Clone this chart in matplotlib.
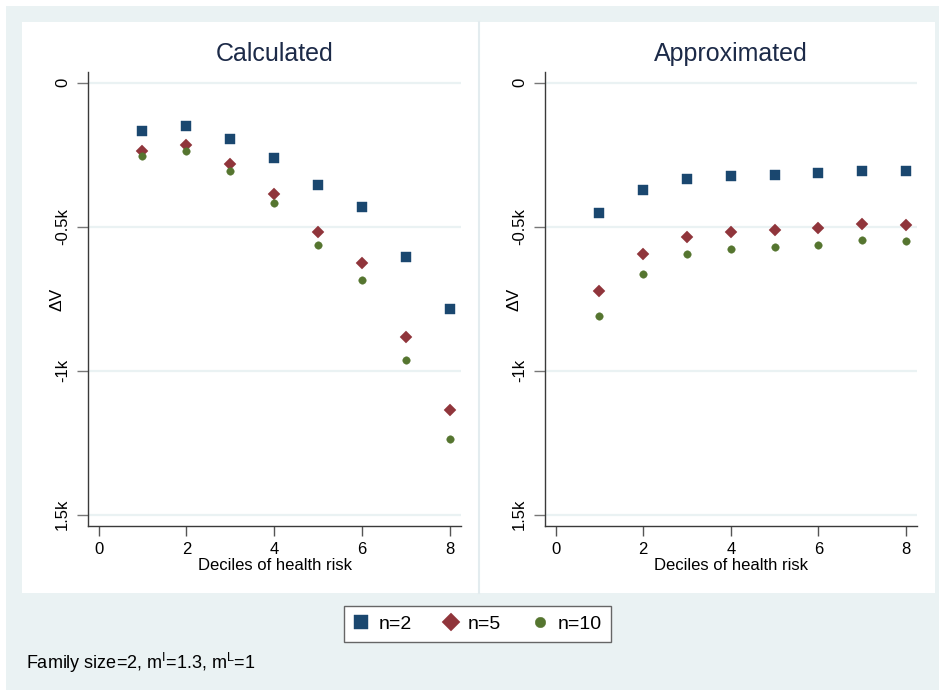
import matplotlib
matplotlib.use("Agg")
import matplotlib.pyplot as plt
from matplotlib.patches import Rectangle
from matplotlib.lines import Line2D

plt.rcParams['font.family'] = ['Liberation Sans', 'DejaVu Sans']
plt.rcParams['mathtext.fontset'] = 'custom'
plt.rcParams['mathtext.rm'] = 'Liberation Sans'
plt.rcParams['mathtext.it'] = 'Liberation Sans:italic'

# ---- data ----
deciles = [1, 2, 3, 4, 5, 6, 7, 8]
calc_n2 = [-168, -149, -194, -262, -356, -431, -606, -786]
calc_n5 = [-236, -216, -281, -385, -519, -627, -884, -1136]
calc_n10 = [-254, -236, -307, -417, -564, -684, -962, -1236]
approx_n2 = [-453, -373, -333, -324, -319, -315, -308, -308]
approx_n5 = [-724, -595, -537, -519, -510, -503, -491, -493]
approx_n10 = [-810, -664, -596, -578, -569, -563, -547, -549]
panel_titles = ["Calculated", "Approximated"]
series_labels = ["n=2", "n=5", "n=10"]
yticks = [0, -500, -1000, -1500]
ytick_labels = ["0", "-0.5k", "-1k", "1.5k"]
xticks = [0, 2, 4, 6, 8]
xlabel = "Deciles of health risk"
ylabel = "ΔV"
note = r"Family size=2, m$^{\mathrm{I}}$=1.3, m$^{\mathrm{L}}$=1"

colors = ["#1a476f", "#90353b", "#55752f"]
markers = ["s", "D", "o"]
msizes = [6.8, 6.6, 5.4]

W, H = 939, 690
fig = plt.figure(figsize=(W / 100, H / 100), dpi=100, facecolor="white")

def fx(px):
    return px / W

def fy(py):
    return 1 - py / H

bg = "#EAF2F3"
fig.patches.append(Rectangle((fx(6), fy(690)), fx(933), 684 / H, transform=fig.transFigure,
                             facecolor=bg, edgecolor="none", zorder=-10))
fig.patches.append(Rectangle((fx(22), fy(593)), fx(913), 571 / H, transform=fig.transFigure,
                             facecolor="white", edgecolor="none", zorder=-9))
fig.lines.append(Line2D([fx(479), fx(479)], [fy(22), fy(593)], transform=fig.transFigure,
                        color="#E3ECEF", lw=1.5, zorder=-8))

axes_px = [(88, 461), (545, 917)]
top, bottom = 72, 526
data = [[calc_n2, calc_n5, calc_n10], [approx_n2, approx_n5, approx_n10]]

handles = []
for i, (x0, x1) in enumerate(axes_px):
    ax = fig.add_axes([fx(x0), fy(bottom), (x1 - x0) / W, (bottom - top) / H], zorder=1)
    ax.set_facecolor("white")
    for s in ["top", "right"]:
        ax.spines[s].set_visible(False)
    for s in ["left", "bottom"]:
        ax.spines[s].set_color("#3a3a3a")
        ax.spines[s].set_linewidth(1.0)
    ax.set_xlim(-0.24, 8.25)
    ax.set_ylim(-1539, 37)
    for y in yticks:
        ax.axhline(y, color=bg, lw=1.6, zorder=0.5)
    for k, ser in enumerate(data[i]):
        h, = ax.plot(deciles, ser, linestyle="none", marker=markers[k], markersize=msizes[k],
                     color=colors[k], markeredgecolor=colors[k], markeredgewidth=0.3, zorder=3,
                     label=series_labels[k])
        if i == 0:
            handles.append(h)
    ax.set_xticks(xticks)
    ax.set_xticklabels([str(t) for t in xticks], fontsize=12)
    ax.set_yticks(yticks)
    ax.set_yticklabels(ytick_labels, fontsize=12, rotation=90, va="center")
    ax.tick_params(axis="x", length=7, width=1, color="#555555", pad=4.5)
    ax.tick_params(axis="y", length=8, width=1, color="#777777", pad=5)
    cx = (x0 + x1) / 2
    fig.text(fx(cx), fy(54), panel_titles[i], fontsize=18, color="#1c2a48",
             ha="center", va="center")
    fig.text(fx(cx), fy(566), xlabel, fontsize=12, ha="center", va="center", zorder=2)
    fig.text(fx(x0 - 31), fy(299), ylabel, fontsize=12.5, ha="center", va="center",
             rotation=90, zorder=2)

leg = fig.legend(handles=handles, labels=series_labels, loc="center", ncol=3,
                 bbox_to_anchor=(fx(477.5), fy(624)), fontsize=14, frameon=True,
                 fancybox=False, numpoints=1, markerscale=1.4, handlelength=0.8,
                 handletextpad=0.5, columnspacing=1.6, borderpad=0.45,
                 facecolor="white", framealpha=1.0)
leg.get_frame().set_edgecolor("#666666")
leg.get_frame().set_linewidth(1.0)

fig.text(fx(26), fy(663), note, fontsize=13, ha="left", va="center")

fig.savefig("out.png", dpi=100, facecolor=fig.get_facecolor())
